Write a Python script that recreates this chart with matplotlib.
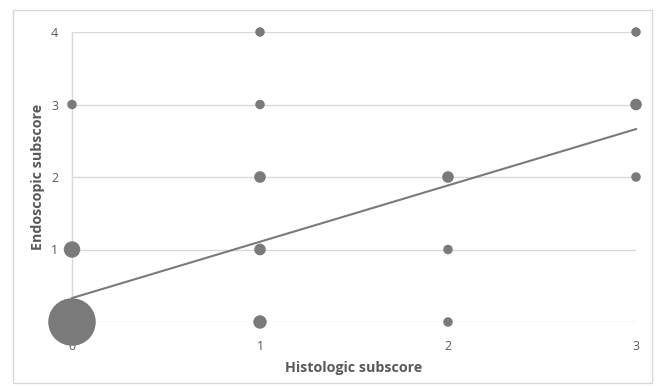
import numpy as np
import matplotlib
matplotlib.use("Agg")
import matplotlib.pyplot as plt
from matplotlib.patches import Rectangle

# data: histologic (x) vs endoscopic (y) subscore, bubble = number of cases
histologic = [0, 0, 0, 1, 1, 1, 1, 1, 2, 2, 2, 3, 3, 3]
endoscopic = [0, 1, 3, 0, 1, 2, 3, 4, 0, 1, 2, 2, 3, 4]
counts = [50, 6, 2, 4, 3, 3, 2, 2, 2, 2, 3, 2, 3, 2]

# linear trendline
trend_intercept = 0.33
trend_slope = 0.777

x_ticks = [0, 1, 2, 3]
y_ticks = [0, 1, 2, 3, 4]

plt.rcParams["font.family"] = ["Open Sans", "DejaVu Sans"]

GREY = "#7a7a7a"
TEXT = "#595959"
GRID = "#d9d9d9"

fig = plt.figure(figsize=(6.6, 3.86), dpi=100)
ax = fig.add_axes([72 / 660, 1 - 322 / 386, (636 - 72) / 660, (322 - 32) / 386])

# outer chart border
fig.patches.append(Rectangle((13 / 660, 1 - 383 / 386), 639 / 660, 373 / 386,
                             transform=fig.transFigure, fill=False,
                             edgecolor=GRID, linewidth=1))

ax.scatter(histologic, endoscopic, s=np.array(counts) * 23.4, color=GREY,
           edgecolors="none", zorder=3, clip_on=False)

xs = np.array([x_ticks[0], x_ticks[-1]])
ax.plot(xs, trend_intercept + trend_slope * xs, color=GREY, linewidth=1.5,
        zorder=4, clip_on=False)

ax.set_xlim(0, 3)
ax.set_ylim(0, 4)
ax.set_xticks(x_ticks)
ax.set_yticks(y_ticks)
ax.yaxis.grid(True, color=GRID, linewidth=1)
ax.set_axisbelow(False)
for line in ax.get_ygridlines():
    line.set_zorder(1)

for side in ["top", "right", "bottom"]:
    ax.spines[side].set_visible(False)
ax.spines["left"].set_color(GRID)
ax.spines["left"].set_linewidth(1)
ax.spines["left"].set_zorder(1)

ax.tick_params(length=0, labelsize=9, labelcolor=TEXT)
ax.tick_params(axis="x", pad=13)
ax.tick_params(axis="y", pad=10)

ax.set_xlabel("Histologic subscore", fontsize=10.3, fontweight="bold",
              color=TEXT, labelpad=6)
ax.set_ylabel("Endoscopic subscore", fontsize=10.3, fontweight="bold",
              color=TEXT, labelpad=4)

fig.savefig("out.png", dpi=100)
